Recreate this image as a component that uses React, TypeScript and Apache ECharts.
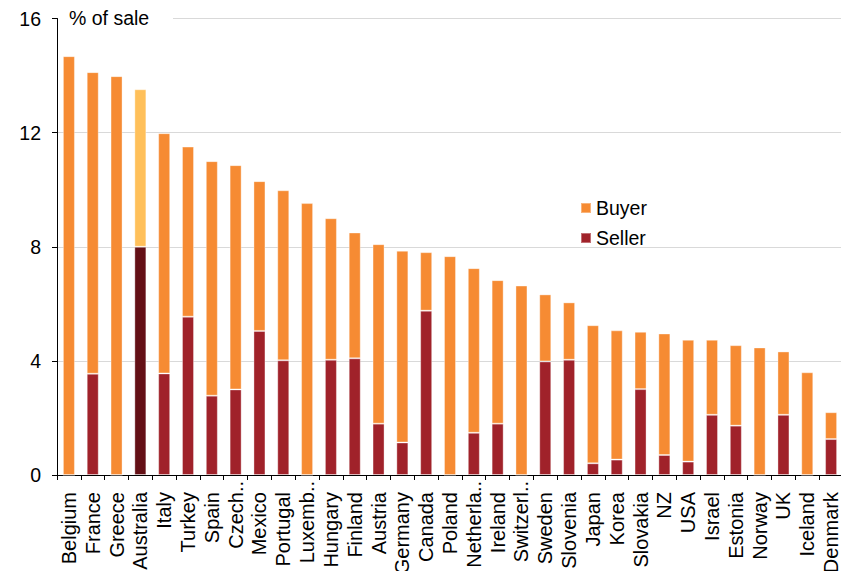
import React, { useEffect, useRef } from "react";
import * as echarts from "echarts";

const categories = [
  "Belgium", "France", "Greece", "Australia", "Italy", "Turkey", "Spain", "Czech..",
  "Mexico", "Portugal", "Luxemb..", "Hungary", "Finland", "Austria", "Germany", "Canada",
  "Poland", "Netherla..", "Ireland", "Switzerl..", "Sweden", "Slovenia", "Japan", "Korea",
  "Slovakia", "NZ", "USA", "Israel", "Estonia", "Norway", "UK", "Iceland", "Denmark",
];

const totals = [
  14.68, 14.12, 13.98, 13.52, 11.98, 11.51, 11.0, 10.86,
  10.3, 9.98, 9.53, 9.0, 8.5, 8.09, 7.86, 7.81,
  7.67, 7.25, 6.83, 6.64, 6.33, 6.05, 5.25, 5.07,
  5.02, 4.96, 4.74, 4.74, 4.55, 4.47, 4.33, 3.6, 2.2,
];

const seller = [
  0, 3.55, 0, 8.0, 3.56, 5.55, 2.78, 3.0,
  5.05, 4.02, 0, 4.04, 4.09, 1.8, 1.14, 5.76,
  0, 1.48, 1.8, 0, 3.98, 4.04, 0.41, 0.54,
  3.01, 0.7, 0.47, 2.11, 1.73, 0, 2.11, 0, 1.26,
];

const buyer = totals.map((t, i) => +(t - seller[i]).toFixed(2));

const yTicks = [0, 4, 8, 12, 16];

const highlight = "Australia";
const BUYER = "#F68B33";
const SELLER = "#A0222A";
const BUYER_HI = "#FFC05A";
const SELLER_HI = "#641016";
const FONT = "'Liberation Sans', Arial, Helvetica, sans-serif";

export default function App() {
  const ref = useRef<HTMLDivElement>(null);
  useEffect(() => {
    if (!ref.current) return;
    const chart = echarts.init(ref.current, undefined, { renderer: "svg" });
    const border = { borderColor: "rgba(255,255,255,0.35)", borderWidth: 1 };
    const lbl = { fontFamily: FONT, fontSize: 20, color: "#000" };
    chart.setOption({
      animation: false,
      grid: {
        left: 57,
        right: -2,
        top: 18.5,
        bottom: 96,
        containLabel: false,
        outerBoundsMode: "none",
      },
      legend: {
        orient: "vertical",
        left: 575,
        top: 193,
        icon: "rect",
        itemWidth: 10,
        itemHeight: 10,
        itemGap: 10,
        textStyle: { fontFamily: FONT, fontSize: 19.5, color: "#000", lineHeight: 19 },
        data: ["Buyer", "Seller"],
        selectedMode: false,
      },
      xAxis: {
        type: "category",
        data: categories,
        axisLine: { lineStyle: { color: "#000", width: 1 } },
        axisTick: { show: true, length: 5, lineStyle: { color: "#000" }, alignWithLabel: false },
        axisLabel: {
          rotate: 90,
          interval: 0,
          margin: 6,
          ...lbl,
          formatter: (v: string) => (v.endsWith("..") ? `{t|${v}}` : `{n|${v}}`),
          rich: {
            t: { ...lbl },
            n: { ...lbl, padding: [0, 11, 0, 0] },
          },
        },
        splitLine: { show: false },
      },
      yAxis: {
        type: "value",
        min: yTicks[0],
        max: yTicks[yTicks.length - 1],
        interval: 4,
        axisLine: { show: true, lineStyle: { color: "#000", width: 1 } },
        axisTick: { show: true, length: 5, lineStyle: { color: "#000" } },
        axisLabel: { margin: 16, fontFamily: FONT, fontSize: 19.5, color: "#000" },
        splitLine: { show: true, lineStyle: { color: "#d9d9d9", width: 1 } },
      },
      series: [
        {
          name: "Seller",
          type: "bar",
          stack: "s",
          barWidth: 12,
          itemStyle: { color: SELLER, ...border },
          data: seller.map((v, i) =>
            categories[i] === highlight
              ? { value: v, itemStyle: { color: SELLER_HI } }
              : v
          ),
        },
        {
          name: "Buyer",
          type: "bar",
          stack: "s",
          barWidth: 12,
          itemStyle: { color: BUYER, ...border },
          data: buyer.map((v, i) =>
            categories[i] === highlight
              ? { value: v, itemStyle: { color: BUYER_HI } }
              : v
          ),
        },
      ],
      graphic: [
        {
          type: "rect",
          left: 58,
          top: 8,
          shape: { width: 115, height: 22 },
          style: { fill: "#fff" },
          z: 100,
        },
        {
          type: "text",
          left: 69,
          top: 8,
          z: 101,
          style: { text: "% of sale", fontFamily: FONT, fontSize: 19.5, fill: "#000" },
        },
      ],
    });
    return () => chart.dispose();
  }, []);
  return <div ref={ref} style={{ width: 841, height: 571, position: "absolute", left: 0, top: 0 }} />;
}
